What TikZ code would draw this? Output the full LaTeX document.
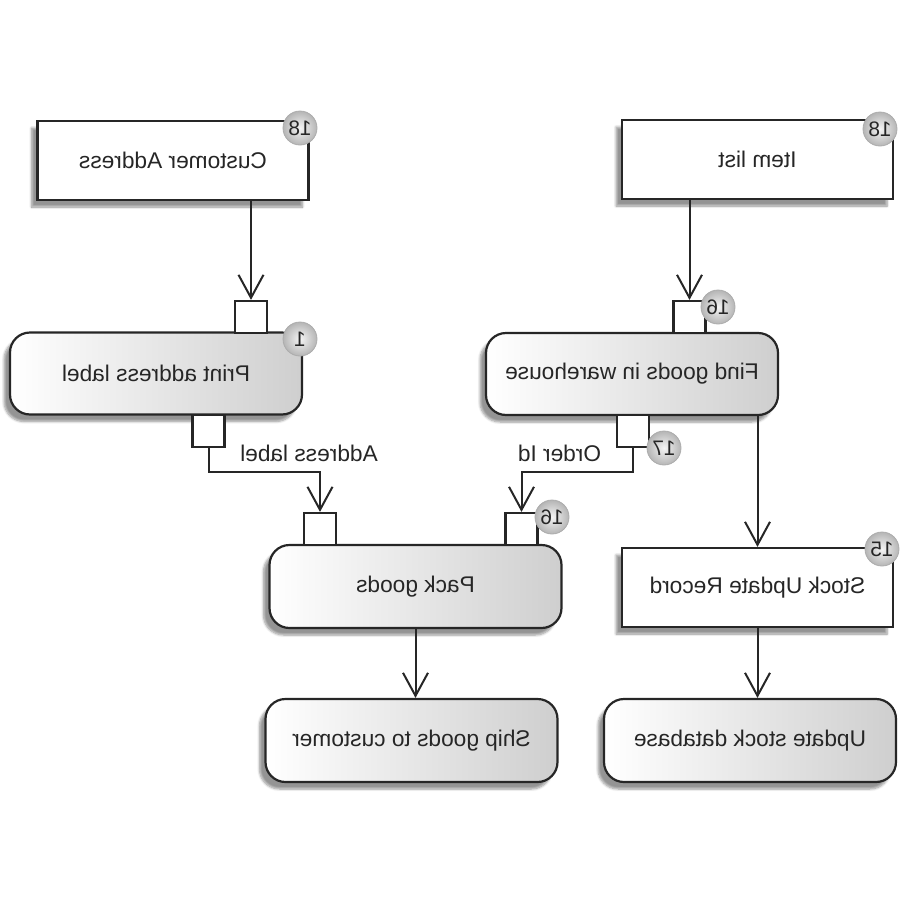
\documentclass[tikz,border=0pt]{standalone}
\usepackage{fontspec}
\setmainfont{Liberation Sans}
\usepackage{graphicx}
\usetikzlibrary{arrows.meta,shadows,shadows.blur}
\begin{document}
\begin{tikzpicture}[x=0.5pt,y=-0.5pt,
  font=\fontsize{11.35}{13}\selectfont,
  txt/.style={text=black!85},
  shad/.style={blur shadow={shadow xshift=-3pt, shadow yshift=-3.5pt, shadow blur radius=1.2pt, shadow blur steps=6, shadow opacity=42}},
  objbox/.style={draw=black!85, line width=1.1pt, fill=white, minimum width=135.5pt, minimum height=39.5pt, inner sep=0pt, txt, shad},
  actbox/.style={draw=black!85, line width=1.1pt, rounded corners=10pt, left color=white, right color=gray!38, minimum width=146pt, minimum height=41pt, inner sep=0pt, txt, shad},
  pinbox/.style={draw=black!85, fill=white, line width=1.1pt, minimum size=16pt, inner sep=0pt},
  badge/.style={circle, minimum size=17pt, inner sep=0pt, inner color=gray!8, outer color=gray!58, draw=gray!65, line width=0.4pt, text=black!85, font=\fontsize{10.5}{12}\selectfont},
  flow/.style={draw=black!85, line width=1pt, -{Straight Barb[length=11.5pt,width=12.5pt,line width=1pt]}},
  lbl/.style={txt, inner sep=0pt}
]
\useasboundingbox (0,0) rectangle (900,900);

% object nodes
\node[objbox] (CA) at (173,160.5) {\reflectbox{Customer Address}};
\node[objbox] (IL) at (757.5,159.5) {\reflectbox{Item list}};
\node[objbox] (SUR) at (757.5,587.5) {\reflectbox{Stock Update Record}};

% action nodes
\node[actbox] (PAL) at (156,373.5) {\reflectbox{Print address label}};
\node[actbox] (FG) at (632,374) {\reflectbox{Find goods in warehouse}};
\node[actbox, minimum height=41.5pt] (PG) at (415.5,586.5) {\reflectbox{Pack goods}};
\node[actbox, minimum height=41.5pt] (SG) at (411.5,740.5) {\reflectbox{Ship goods to customer}};
\node[actbox, minimum height=41.5pt] (USD) at (750,740.5) {\reflectbox{Update stock database}};

% pins
\node[pinbox] (p1) at (251,317) {};
\node[pinbox] (p2) at (689.5,317) {};
\node[pinbox] (p3) at (208.5,431) {};
\node[pinbox] (p4) at (320,529) {};
\node[pinbox] (p5) at (633,431) {};
\node[pinbox] (p6) at (521.5,529) {};

% connectors
\draw[flow] (p1.north |- CA.south) -- (p1.north);
\draw[flow] (p2.north |- IL.south) -- (p2.north);
\draw[flow] (p3.south) -- ++(0,24) -| (p4.north);
\draw[flow] (p5.south) -- ++(0,24) -| (p6.north);
\draw[flow] (SUR.north |- FG.south) -- (SUR.north);
\draw[flow] (SUR.south) -- (SUR.south |- USD.north);
\draw[flow] (PG.south) -- (PG.south |- SG.north);

% flow labels
\node[lbl] (la) at (309,453) {\reflectbox{Address label}};
\node[lbl] (lo) at (559.5,453) {\reflectbox{Order Id}};

% badges
\node[badge] (b1) at (300,128) {\reflectbox{18}};
\node[badge] (b2) at (880,129) {\reflectbox{18}};
\node[badge] (b3) at (300,339) {\reflectbox{1}};
\node[badge] (b4) at (718,307) {\reflectbox{16}};
\node[badge] (b5) at (664,448) {\reflectbox{17}};
\node[badge] (b6) at (552,517) {\reflectbox{16}};
\node[badge] (b7) at (882,549) {\reflectbox{15}};
\end{tikzpicture}
\end{document}
